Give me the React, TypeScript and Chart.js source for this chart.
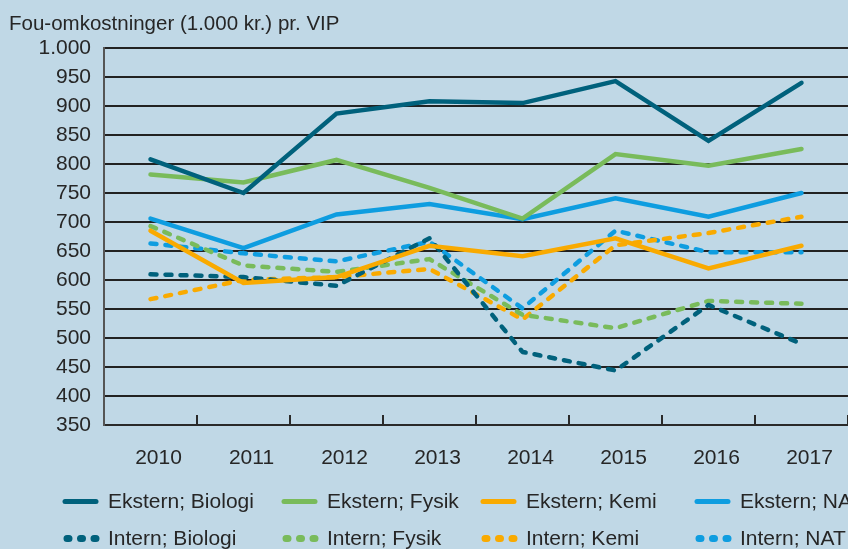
import React, { useEffect, useRef } from "react";
import { Chart, registerables } from "chart.js";

Chart.register(...registerables);

const years = ["2010", "2011", "2012", "2013", "2014", "2015", "2016", "2017"];
const yTicks = [350, 400, 450, 500, 550, 600, 650, 700, 750, 800, 850, 900, 950, 1000];
const title = "Fou-omkostninger (1.000 kr.) pr. VIP";

const eksternBiologi = [808, 750, 887, 908, 905, 943, 840, 940];
const eksternFysik = [782, 768, 807, 759, 706, 817, 797, 826];
const eksternKemi = [685, 595, 605, 659, 641, 672, 620, 659];
const eksternNAT = [706, 655, 713, 731, 705, 741, 709, 750];
const internBiologi = [610, 605, 590, 672, 476, 444, 557, 490];
const internFysik = [693, 625, 614, 636, 540, 517, 564, 559];
const internKemi = [567, 600, 605, 619, 532, 660, 681, 709];
const internNAT = [663, 646, 632, 666, 551, 685, 648, 648];

const TEAL = "#00617c";
const GREEN = "#79bb5b";
const ORANGE = "#f9aa00";
const BLUE = "#0e9de0";
const BG = "#c0d8e6";
const TEXT = "#262626";

const TEXT_FONT = '"Liberation Sans", Arial, sans-serif';
const TICK_FONT = '"Liberation Sans", Arial, sans-serif';

function fmt(v: number): string {
  const s = String(Math.round(v));
  return s.length > 3 ? s.slice(0, s.length - 3) + "." + s.slice(-3) : s;
}

const bgPlugin = {
  id: "bgPlugin",
  beforeDraw(chart: any) {
    const { ctx, width, height } = chart;
    ctx.save();
    ctx.fillStyle = BG;
    ctx.fillRect(0, 0, width, height);
    ctx.restore();
  },
};

const textPlugin = {
  id: "textPlugin",
  afterDraw(chart: any) {
    const ctx = chart.ctx as CanvasRenderingContext2D;
    ctx.save();
    ctx.fillStyle = TEXT;
    ctx.font = `20.5px ${TEXT_FONT}`;
    ctx.textBaseline = "alphabetic";
    ctx.textAlign = "left";
    ctx.fillText(title, 9, 30);

    // legend
    const colX = [108, 327, 526, 740];
    const rowY = [508, 545];
    ctx.font = `21px ${TEXT_FONT}`;
    chart.data.datasets.forEach((ds: any, i: number) => {
      const c = i % 4;
      const r = Math.floor(i / 4);
      const tx = colX[c];
      const ty = rowY[r];
      const ly = ty - 6.5;
      ctx.save();
      ctx.strokeStyle = ds.borderColor;
      ctx.lineCap = "round";
      ctx.beginPath();
      if (ds.borderDash && ds.borderDash.length) {
        ctx.lineWidth = 7;
        ctx.setLineDash([2, 11.5]);
        ctx.moveTo(tx - 41, ly);
        ctx.lineTo(tx - 12, ly);
      } else {
        ctx.lineWidth = 5;
        ctx.moveTo(tx - 43, ly);
        ctx.lineTo(tx - 12, ly);
      }
      ctx.stroke();
      ctx.restore();
      ctx.fillStyle = TEXT;
      ctx.fillText(ds.label, tx, ty);
    });
    ctx.restore();
  },
};

function solid(label: string, data: number[], color: string) {
  return {
    label,
    data,
    borderColor: color,
    backgroundColor: color,
    borderWidth: 4.5,
    pointRadius: 0,
    tension: 0,
    fill: false,
    borderCapStyle: "round" as const,
    borderJoinStyle: "miter" as const,
  };
}

function dashed(label: string, data: number[], color: string) {
  return {
    ...solid(label, data, color),
    borderDash: [6, 9],
    borderCapStyle: "round" as const,
    borderJoinStyle: "round" as const,
  };
}

export default function App() {
  const ref = useRef<HTMLCanvasElement | null>(null);

  useEffect(() => {
    if (!ref.current) return;
    const chart = new Chart(ref.current, {
      type: "line",
      data: {
        labels: years,
        datasets: [
          solid("Ekstern; Biologi", eksternBiologi, TEAL),
          solid("Ekstern; Fysik", eksternFysik, GREEN),
          solid("Ekstern; Kemi", eksternKemi, ORANGE),
          solid("Ekstern; NAT", eksternNAT, BLUE),
          dashed("Intern; Biologi", internBiologi, TEAL),
          dashed("Intern; Fysik", internFysik, GREEN),
          dashed("Intern; Kemi", internKemi, ORANGE),
          dashed("Intern; NAT", internNAT, BLUE),
        ],
      },
      options: {
        responsive: false,
        animation: false,
        devicePixelRatio: 1,
        layout: { padding: { left: 0, top: 48, right: 2.4, bottom: 64 } },
        plugins: {
          legend: { display: false },
          title: { display: false },
          tooltip: { enabled: false },
        },
        scales: {
          x: {
            type: "category",
            offset: true,
            afterFit: (scale: any) => {
              scale.height = 60;
            },
            grid: {
              offset: true,
              drawOnChartArea: false,
              drawTicks: true,
              tickLength: -10,
              color: "#2a2a2a",
              lineWidth: 2,
            },
            border: { display: true, color: "#2a2a2a", width: 2 },
            ticks: {
              color: TEXT,
              font: { family: TICK_FONT, size: 21 },
              padding: 31,
              labelOffset: 8,
              maxRotation: 0,
              autoSkip: false,
            },
          },
          y: {
            min: 350,
            max: 1000,
            afterFit: (scale: any) => {
              scale.width = 104;
            },
            afterBuildTicks: (scale: any) => {
              scale.ticks = yTicks.map((v) => ({ value: v }));
            },
            grid: {
              drawTicks: false,
              color: "#222222",
              lineWidth: 2,
            },
            border: { display: true, color: "#555555", width: 2 },
            ticks: {
              autoSkip: false,
              color: TEXT,
              font: { family: TICK_FONT, size: 21 },
              padding: 13,
              callback: (v: any) => fmt(Number(v)),
            },
          },
        },
      },
      plugins: [bgPlugin, textPlugin],
    } as any);
    return () => chart.destroy();
  }, []);

  return (
    <div
      style={{
        position: "absolute",
        left: 0,
        top: 0,
        width: 848,
        height: 549,
        overflow: "hidden",
        background: BG,
      }}
    >
      <canvas
        ref={ref}
        width={856}
        height={549}
        style={{ display: "block", width: 856, height: 549 }}
      />
    </div>
  );
}
